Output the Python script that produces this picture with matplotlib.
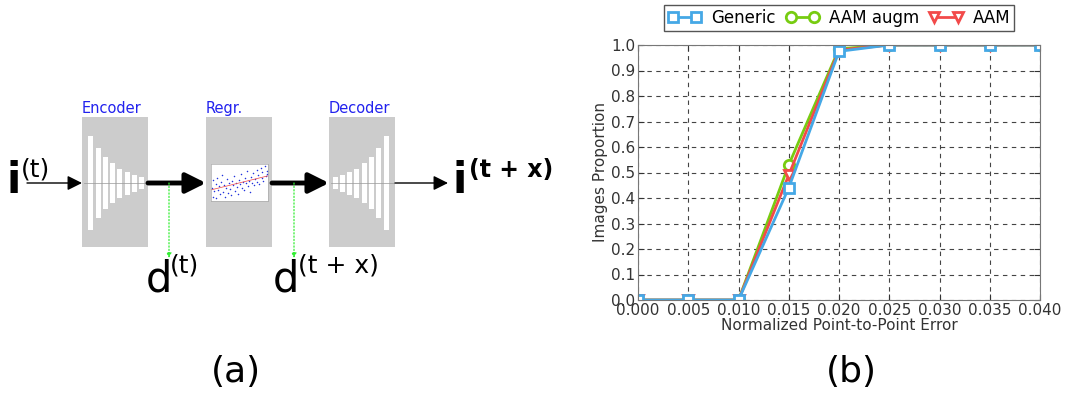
import matplotlib
matplotlib.use("Agg")
import matplotlib.pyplot as plt
import numpy as np

# chart (b) data
err_x = [0.000, 0.005, 0.010, 0.015, 0.020, 0.025, 0.030, 0.035, 0.040]
generic = [0.0, 0.0, 0.0, 0.44, 0.975, 1.0, 1.0, 1.0, 1.0]
aam_augm = [0.0, 0.0, 0.0, 0.53, 0.985, 1.0, 1.0, 1.0, 1.0]
aam = [0.0, 0.0, 0.0, 0.49, 0.98, 1.0, 1.0, 1.0, 1.0]
x_ticks = [0.000, 0.005, 0.010, 0.015, 0.020, 0.025, 0.030, 0.035, 0.040]
y_ticks = [0.0, 0.1, 0.2, 0.3, 0.4, 0.5, 0.6, 0.7, 0.8, 0.9, 1.0]

# diagram (a) data
enc_heights = [94, 70, 52, 40, 29, 23, 17, 12]
dec_heights = enc_heights[::-1]
sc_x = [0.01, 0.03, 0.04, 0.06, 0.08, 0.09, 0.11, 0.12, 0.14, 0.16, 0.18, 0.19,
        0.21, 0.23, 0.24, 0.26, 0.28, 0.29, 0.31, 0.33, 0.35, 0.36, 0.38, 0.40,
        0.42, 0.43, 0.45, 0.47, 0.49, 0.51, 0.52, 0.54, 0.56, 0.58, 0.60, 0.61,
        0.63, 0.65, 0.67, 0.69, 0.70, 0.72, 0.74, 0.76, 0.78, 0.80, 0.81, 0.83,
        0.85, 0.87, 0.89, 0.90, 0.92, 0.94, 0.96, 0.98, 0.99]
sc_y = [0.35, 0.12, 0.58, 0.28, 0.45, 0.08, 0.62, 0.30, 0.40, 0.18, 0.52, 0.70,
        0.25, 0.44, 0.10, 0.36, 0.60, 0.22, 0.48, 0.33, 0.15, 0.55, 0.42, 0.68,
        0.28, 0.50, 0.38, 0.20, 0.58, 0.45, 0.72, 0.35, 0.52, 0.30, 0.62, 0.48,
        0.80, 0.40, 0.55, 0.25, 0.66, 0.50, 0.75, 0.42, 0.60, 0.85, 0.52, 0.70,
        0.45, 0.90, 0.62, 0.78, 0.55, 0.95, 0.68, 0.82, 0.72]
reg_x = [0.0, 1.0]
reg_y = [0.30, 0.68]

W, H = 1065, 394
fig = plt.figure(figsize=(W / 100, H / 100), dpi=100)

# ---- diagram, drawn in pixel coordinates
ax_d = fig.add_axes([0, 0, 1, 1])
ax_d.set_xlim(0, W)
ax_d.set_ylim(H, 0)
ax_d.axis("off")

mid = 183
box_gray = "#cccccc"
for x0, label in [(82, "Encoder"), (206, "Regr."), (329, "Decoder")]:
    ax_d.add_patch(plt.Rectangle((x0, 117), 66, 130, color=box_gray, lw=0))
    ax_d.text(x0, 108, label, color="#2222ee", fontsize=10.5, va="center", ha="left")

ax_d.plot([84, 146], [mid, mid], color="#999999", lw=0.5)
ax_d.plot([331, 394], [mid, mid], color="#999999", lw=0.5)

enc_x = 90.7 + 7.3 * np.arange(len(enc_heights))
ax_d.bar(enc_x, enc_heights, width=5, bottom=mid - np.array(enc_heights) / 2,
         color="white", lw=0)
dec_x = 335 + 7.3 * np.arange(len(dec_heights))
ax_d.bar(dec_x, dec_heights, width=5, bottom=mid - np.array(dec_heights) / 2,
         color="white", lw=0)

# arrows
thin = dict(arrowstyle="-|>", color="black", lw=1.0, mutation_scale=22,
            shrinkA=0, shrinkB=0)
thick = dict(arrowstyle="-|>", color="black", lw=3.5, mutation_scale=30,
             shrinkA=0, shrinkB=0)
green = dict(arrowstyle="-|>", color="#33ee33", lw=0.9, ls=":", mutation_scale=7,
             shrinkA=0, shrinkB=0)
ax_d.annotate("", xy=(82, mid), xytext=(27, mid), arrowprops=thin)
ax_d.annotate("", xy=(206, mid), xytext=(148, mid), arrowprops=thick)
ax_d.annotate("", xy=(329, mid), xytext=(272, mid), arrowprops=thick)
ax_d.annotate("", xy=(448, mid), xytext=(395, mid), arrowprops=thin)
ax_d.annotate("", xy=(169, 258), xytext=(169, mid), arrowprops=green)
ax_d.annotate("", xy=(294, 258), xytext=(294, mid), arrowprops=green)

# labels
ax_d.text(6, 193, "i", fontsize=30, fontweight="bold", va="baseline", ha="left")
ax_d.text(21, 176, "(t)", fontsize=18, va="baseline", ha="left")
ax_d.text(452, 193, "i", fontsize=30, fontweight="bold", va="baseline", ha="left")
ax_d.text(469, 177, "(t + x)", fontsize=17, fontweight="bold", va="baseline", ha="left")
ax_d.text(146, 291, "d", fontsize=30, va="baseline", ha="left")
ax_d.text(170, 273, "(t)", fontsize=18, va="baseline", ha="left")
ax_d.text(273, 291, "d", fontsize=30, va="baseline", ha="left")
ax_d.text(298, 273, "(t + x)", fontsize=18, va="baseline", ha="left")
ax_d.text(236, 372, "(a)", fontsize=26, va="center", ha="center")
ax_d.text(851, 372, "(b)", fontsize=26, va="center", ha="center")

# scatter inset in the regressor box
ax_s = fig.add_axes([211 / W, 1 - 201 / H, 57 / W, 37 / H])
ax_s.scatter(sc_x, sc_y, s=1.2, color="#2233dd", lw=0)
ax_s.plot(reg_x, reg_y, color="#ee4444", lw=0.5)
ax_s.set_xlim(0, 1)
ax_s.set_ylim(0, 1)
ax_s.set_xticks([])
ax_s.set_yticks([])
for s in ax_s.spines.values():
    s.set_color("#aaaaaa")
    s.set_linewidth(0.5)

# ---- chart (b)
ax = fig.add_axes([638 / W, 1 - 300 / H, 402 / W, 255 / H])
c_blue = "#45a8e6"
c_green = "#77cc11"
c_red = "#f24a4a"
l_aug, = ax.plot(err_x, aam_augm, color=c_green, lw=2, marker="o", ms=7.5,
                 mfc="white", mec=c_green, mew=2, label="AAM augm")
l_aam, = ax.plot(err_x, aam, color=c_red, lw=2, marker="v", ms=7.5,
                 mfc="white", mec=c_red, mew=2, label="AAM")
l_gen, = ax.plot(err_x, generic, color=c_blue, lw=2, marker="s", ms=7.5,
                 mfc="white", mec=c_blue, mew=2, label="Generic")
ax.set_xlim(0, 0.04)
ax.set_ylim(0, 1.0)
ax.set_xticks(x_ticks)
ax.set_xticklabels(["%.3f" % v for v in x_ticks])
ax.set_yticks(y_ticks)
ax.set_yticklabels(["%.1f" % v for v in y_ticks])
ax.tick_params(direction="in", labelsize=11, colors="#333333", length=4,
               top=True, right=True, pad=2)
ax.grid(True, color="#444444", ls="--", lw=0.8, dashes=(4, 4))
for s in ax.spines.values():
    s.set_color("#777777")
ax.set_xlabel("Normalized Point-to-Point Error", fontsize=11, color="#333333",
              labelpad=0)
ax.set_ylabel("Images Proportion", fontsize=11, color="#333333", labelpad=2)
leg = ax.legend(handles=[l_gen, l_aug, l_aam], loc="lower center",
                bbox_to_anchor=(0.5, 1.055), ncol=3, fontsize=12, numpoints=2,
                handlelength=2.0, columnspacing=0.6, handletextpad=0.6,
                fancybox=False, framealpha=1, borderaxespad=0, borderpad=0.25)
leg.get_frame().set_edgecolor("#555555")

fig.savefig("out.png", dpi=100)
